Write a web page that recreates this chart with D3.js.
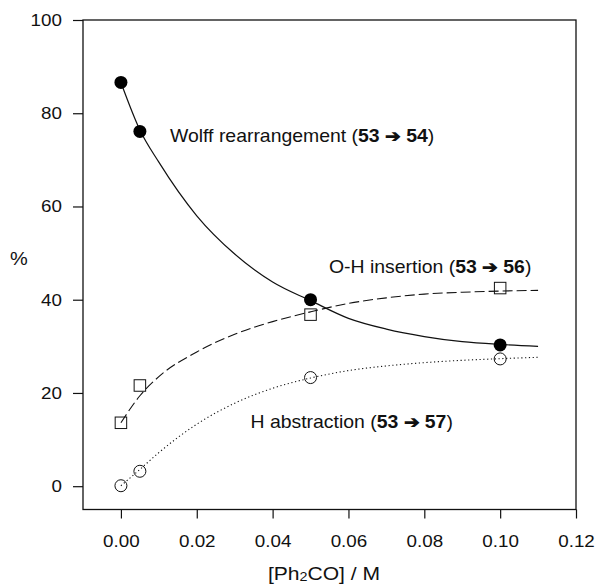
<!DOCTYPE html>
<html><head><meta charset="utf-8">
<script src="https://cdn.jsdelivr.net/npm/d3@7"></script>
<style>
html,body{margin:0;padding:0;background:#fff;}
svg{display:block;}
text{font-family:"Liberation Sans",Arial,Helvetica,sans-serif;fill:#111;}
</style></head><body>
<svg id="c" width="595" height="585"></svg>
<script>
// ---- data ----
const concentrations = [0, 0.005, 0.05, 0.10];
const wolffValues   = [86.6, 76.1, 40.0, 30.3];
const ohValues      = [13.6, 21.6, 36.8, 42.5];
const habsValues    = [0.1, 3.2, 23.3, 27.3];

// fitted curves
const curveX      = [0, 0.005, 0.01, 0.02, 0.03, 0.04, 0.05, 0.06, 0.07, 0.08, 0.09, 0.10, 0.11];
const wolffCurve  = [86.6, 76.4, 69.5, 58.0, 49.8, 43.8, 39.8, 36.0, 33.7, 32.1, 31.0, 30.4, 30.0];
const ohCurve     = [13.6, 19.4, 23.5, 28.8, 32.6, 35.3, 37.4, 39.2, 40.4, 41.2, 41.6, 41.85, 42.0];
const habsCurve   = [0.1, 3.6, 7.2, 13.3, 17.8, 21.0, 23.2, 24.8, 25.8, 26.5, 27.0, 27.35, 27.65];

const xTicks = [0, 0.02, 0.04, 0.06, 0.08, 0.10, 0.12];
const yTicks = [0, 20, 40, 60, 80, 100];

const svg = d3.select("#c");
const L = 83, R = 576, T = 20, B = 509.5;
const x = d3.scaleLinear().domain([-0.01, 0.12]).range([L, R]);
const y = d3.scaleLinear().domain([-5, 100]).range([B, T]);

const TS = 1.14;   // horizontal stretch of tick text
const LS = 1.11;   // horizontal stretch of label text
const TF = 16.5;   // tick font size

// axes
const ya = svg.append("g").attr("transform", `translate(${L},0)`)
  .call(d3.axisLeft(y).tickValues(yTicks).tickSize(10).tickSizeOuter(0).tickPadding(11).tickFormat(d3.format("d")));
ya.select(".domain").remove();
ya.selectAll("line").attr("stroke", "#111").attr("stroke-width", 1.2);
ya.selectAll("text").attr("font-size", TF).attr("x", -21 / TS).attr("transform", `scale(${TS},1)`)
  .style("font-family", "Liberation Sans, Arial, sans-serif").attr("fill", "#111");

const xa = svg.append("g").attr("transform", `translate(0,${B})`)
  .call(d3.axisBottom(x).tickValues(xTicks).tickSize(9).tickSizeOuter(0).tickPadding(16.5).tickFormat(d3.format(".2f")));
xa.select(".domain").remove();
xa.selectAll("line").attr("stroke", "#111").attr("stroke-width", 1.2);
xa.selectAll("text").attr("font-size", TF).attr("transform", `scale(${TS},1)`)
  .style("font-family", "Liberation Sans, Arial, sans-serif").attr("fill", "#111");

// frame
svg.append("rect").attr("x", L).attr("y", T).attr("width", R - L).attr("height", B - T)
  .attr("fill", "none").attr("stroke", "#111").attr("stroke-width", 1.3);

// curves
const line = d3.line().x(d => x(d[0])).y(d => y(d[1])).curve(d3.curveMonotoneX);
function drawCurve(vals, dash, w) {
  svg.append("path").datum(curveX.map((c, i) => [c, vals[i]]))
    .attr("d", line).attr("fill", "none").attr("stroke", "#111")
    .attr("stroke-width", w).attr("stroke-dasharray", dash);
}
drawCurve(wolffCurve, null, 1.2);
drawCurve(ohCurve, "10,4", 1.1);
drawCurve(habsCurve, "1.2,2.6", 1.1);

// markers
svg.selectAll(".w").data(concentrations.map((c, i) => [c, wolffValues[i]])).enter()
  .append("circle").attr("cx", d => x(d[0])).attr("cy", d => y(d[1])).attr("r", 6.5).attr("fill", "#000");
const sq = 11.5;
svg.selectAll(".o").data(concentrations.map((c, i) => [c, ohValues[i]])).enter()
  .append("rect").attr("x", d => x(d[0]) - sq / 2).attr("y", d => y(d[1]) - sq / 2)
  .attr("width", sq).attr("height", sq).attr("fill", "none").attr("stroke", "#111").attr("stroke-width", 1);
svg.selectAll(".h").data(concentrations.map((c, i) => [c, habsValues[i]])).enter()
  .append("circle").attr("cx", d => x(d[0])).attr("cy", d => y(d[1])).attr("r", 6)
  .attr("fill", "none").attr("stroke", "#111").attr("stroke-width", 1);

// labels
function label(px, py, parts, size, anchor) {
  const t = svg.append("text").attr("transform", `translate(${px},${py}) scale(${LS},1)`)
    .attr("font-size", size).attr("text-anchor", anchor || "start");
  parts.forEach(p => {
    const s = t.append("tspan").text(p.t);
    if (p.b) s.attr("font-weight", "bold");
    if (p.sub) s.attr("font-size", size * 0.68).attr("dy", 1.5);
    if (p.up) s.attr("dy", -1.5);
  });
  return t;
}
const arrow = " \u2794 ";
label(170, 141.5, [{t: "Wolff rearrangement ("}, {t: "53", b: 1}, {t: arrow, b: 1}, {t: "54", b: 1}, {t: ")"}], 17.5);
label(329, 273, [{t: "O-H insertion ("}, {t: "53", b: 1}, {t: arrow, b: 1}, {t: "56", b: 1}, {t: ")"}], 17.5);
label(250.5, 428, [{t: "H abstraction ("}, {t: "53", b: 1}, {t: arrow, b: 1}, {t: "57", b: 1}, {t: ")"}], 17.5);
label(10, 265, [{t: "%"}], 18);
label(324, 579.5, [{t: "[Ph"}, {t: "2", sub: 1}, {t: "CO] / M", up: 1}], 19, "middle");
</script>
</body></html>
